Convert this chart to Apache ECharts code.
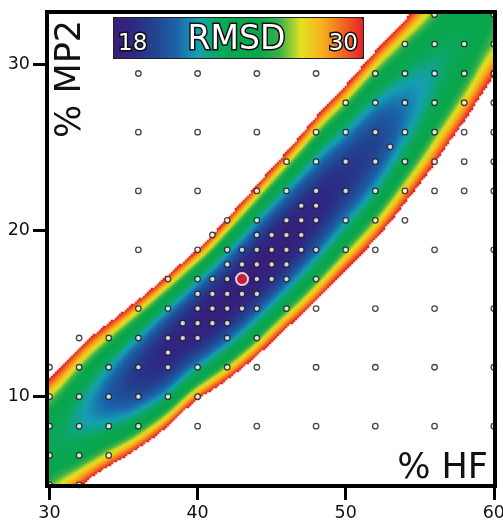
<!DOCTYPE html>
<html><head><meta charset="utf-8">
<script src="https://cdn.jsdelivr.net/npm/echarts@6/dist/echarts.min.js"></script>
<style>html,body{margin:0;padding:0;background:#fff;overflow:hidden;}#c{width:503px;height:521px;}</style>
</head><body><div id="c"></div>
<script>
// ---- tick labels ----
const hfTicks = [30, 40, 50, 60];
const mp2Ticks = [10, 20, 30];
// ---- colour scale ----
const rmsdMin = 18;
const rmsdMax = 30;
const rmsdTitle = 'RMSD';
// ---- RMSD at the regular lattice of computed points ----
const hfLevels = [30, 32, 34, 36, 38, 40, 42, 44, 46, 48, 50, 52, 54, 56, 58, 60];
const mp2Levels = [4.70, 6.47, 8.23, 10.00, 11.77, 13.53, 15.30, 17.07, 18.83, 20.60, 22.37, 24.13, 25.90, 27.67, 29.43, 31.20, 32.97];
const rmsdRows = [
  [25.9, 29.4, 35.4, 43.0, 54.6, 60, 60, 60, 60, 60, 60, 60, 60, 60, 60, 60],
  [23.5, 24.5, 27.4, 32.2, 40.6, 54.0, 60, 60, 60, 60, 60, 60, 60, 60, 60, 60],
  [23.8, 22.4, 22.6, 24.7, 30.1, 39.9, 47.6, 57.6, 60, 60, 60, 60, 60, 60, 60, 60],
  [26.8, 23.0, 20.8, 20.5, 22.9, 29.2, 35.6, 44.1, 55.3, 60, 60, 60, 60, 60, 60, 60],
  [32.5, 26.4, 22.2, 19.6, 19.3, 22.2, 26.7, 33.5, 42.7, 52.2, 60, 60, 60, 60, 60, 60],
  [40.8, 32.4, 26.6, 22.0, 19.0, 18.8, 21.0, 25.6, 32.8, 41.0, 51.5, 60, 60, 60, 60, 60],
  [51.9, 41.2, 34.2, 27.7, 22.2, 18.9, 18.4, 20.6, 25.4, 32.0, 40.8, 50.4, 60, 60, 60, 60],
  [60, 52.7, 44.8, 36.8, 28.9, 22.6, 19.0, 18.3, 20.6, 25.4, 32.3, 40.4, 50.5, 60, 60, 60],
  [60, 60, 58.5, 49.1, 38.9, 29.9, 22.7, 18.9, 18.4, 21.0, 25.9, 32.4, 41.2, 52.0, 60, 60],
  [60, 60, 60, 60, 52.5, 40.8, 29.5, 22.3, 18.9, 19.0, 21.7, 26.4, 33.6, 42.9, 55.0, 60],
  [60, 60, 60, 60, 60, 55.2, 39.5, 28.5, 22.0, 19.2, 19.6, 22.4, 27.9, 35.5, 45.7, 57.1],
  [60, 60, 60, 60, 60, 60, 52.6, 37.5, 27.6, 21.8, 19.7, 20.3, 23.9, 29.7, 38.0, 48.0],
  [60, 60, 60, 60, 60, 60, 60, 49.3, 35.9, 26.6, 22.0, 20.2, 21.7, 25.7, 31.9, 40.4],
  [60, 60, 60, 60, 60, 60, 60, 60, 46.8, 33.8, 26.4, 22.1, 21.4, 23.2, 27.5, 34.2],
  [60, 60, 60, 60, 60, 60, 60, 60, 60, 43.3, 32.9, 25.9, 22.8, 22.5, 24.7, 29.6],
  [60, 60, 60, 60, 60, 60, 60, 60, 60, 55.0, 41.7, 31.7, 26.0, 23.4, 23.5, 26.4],
  [60, 60, 60, 60, 60, 60, 60, 60, 60, 60, 52.6, 39.5, 31.0, 26.0, 24.0, 24.8]
];
// ---- computed points: [%MP2, [%HF ...]] ----
const dotRows = [
  [4.70, [30, 32]],
  [6.47, [30, 32, 34]],
  [8.23, [30, 32, 34, 36, 40, 44, 48, 52, 56, 60]],
  [10.00, [30, 32, 34, 36, 38, 40]],
  [11.77, [30, 32, 34, 36, 38, 40, 42, 44, 48, 52, 56, 60]],
  [12.65, [38]],
  [13.53, [32, 34, 36, 38, 39, 40, 42, 44]],
  [14.42, [39, 40, 41, 42]],
  [15.30, [36, 38, 40, 41, 42, 43, 44, 46, 48, 52, 56, 60]],
  [16.18, [40, 41, 42, 43, 44]],
  [17.07, [38, 40, 41, 42, 44, 45, 46, 48]],
  [17.95, [42, 43, 44, 45, 46]],
  [18.83, [36, 40, 42, 43, 44, 45, 46, 47, 48, 50, 52, 56, 60]],
  [19.72, [41, 44, 45, 46, 47]],
  [20.60, [42, 44, 46, 47, 48, 50, 52, 54]],
  [21.48, [47, 48]],
  [22.37, [36, 40, 44, 46, 48, 50, 52, 54, 56, 58, 60]],
  [24.13, [46, 48, 50, 52, 54, 56, 58, 60]],
  [25.02, [53]],
  [25.90, [36, 40, 44, 48, 50, 52, 54, 56, 58, 60]],
  [27.67, [50, 52, 54, 56, 58, 60]],
  [29.43, [36, 40, 44, 48, 52, 54, 56, 58, 60]],
  [31.20, [54, 56, 58, 60]],
  [32.97, [56, 60]]
];
const bestPoint = [43, 17.07];

// ---- layout ----
const X0 = 29.831, X1 = 60.081, Y0 = 4.632, Y1 = 33.126;
const GRID = {left: 47, top: 12, width: 448, height: 474, outerBoundsMode: 'none', containLabel: false};
const NX = 224, NY = 237;
const FONT = '"DejaVu Sans", Verdana, sans-serif';

// smooth display of the lattice (Catmull-Rom), as the original surface plot
function lat(r, c) {
  const R = rmsdRows.length, C = hfLevels.length;
  if (r < 0) return 2 * lat(0, c) - lat(1, c);
  if (r > R - 1) return 2 * lat(R - 1, c) - lat(R - 2, c);
  if (c < 0) return 2 * lat(r, 0) - lat(r, 1);
  if (c > C - 1) return 2 * lat(r, C - 1) - lat(r, C - 2);
  return rmsdRows[r][c];
}
function locate(levels, v) {
  let i = 0;
  while (i < levels.length - 2 && v > levels[i + 1]) i++;
  let t = (v - levels[i]) / (levels[i + 1] - levels[i]);
  t = Math.max(0, Math.min(1, t));
  return [i, t];
}
function cr(p0, p1, p2, p3, t) {
  return 0.5 * (2 * p1 + (-p0 + p2) * t + (2 * p0 - 5 * p1 + 4 * p2 - p3) * t * t + (-p0 + 3 * p1 - 3 * p2 + p3) * t * t * t);
}
function surface(x, y) {
  const [c, tx] = locate(hfLevels, x);
  const [r, ty] = locate(mp2Levels, y);
  const col = [];
  for (let m = -1; m <= 2; m++) {
    col.push(cr(lat(r + m, c - 1), lat(r + m, c), lat(r + m, c + 1), lat(r + m, c + 2), tx));
  }
  return cr(col[0], col[1], col[2], col[3], ty);
}
const xCats = [], yCats = [], heat = [];
for (let i = 0; i < NX; i++) xCats.push(i);
for (let j = 0; j < NY; j++) yCats.push(j);
for (let j = 0; j < NY; j++) {
  const y = Y0 + (j + 0.5) * (Y1 - Y0) / NY;
  for (let i = 0; i < NX; i++) {
    const x = X0 + (i + 0.5) * (X1 - X0) / NX;
    const v = surface(x, y);
    if (v <= rmsdMax) heat.push([i, j, Math.round(v * 100) / 100]); // above the scale: left white
  }
}
const dots = [];
dotRows.forEach(([y, xs]) => xs.forEach(x => dots.push([x, y])));

const chart = echarts.init(document.getElementById('c'), null, {renderer: 'canvas'});
const labelStyle = {fontSize: 17.5, color: '#111', fontFamily: FONT};
chart.setOption({
  animation: false,
  backgroundColor: '#fff',
  grid: [
    Object.assign({show: false}, GRID),
    Object.assign({show: false}, GRID)
  ],
  xAxis: [
    {type: 'category', gridIndex: 0, data: xCats, show: false},
    {type: 'value', gridIndex: 1, min: X0, max: X1, axisLine: {show: false}, splitLine: {show: false},
     axisTick: {show: true, customValues: hfTicks, length: 14, lineStyle: {color: '#000', width: 3}},
     axisLabel: Object.assign({customValues: hfTicks, margin: 18}, labelStyle)}
  ],
  yAxis: [
    {type: 'category', gridIndex: 0, data: yCats, show: false},
    {type: 'value', gridIndex: 1, min: Y0, max: Y1, axisLine: {show: false}, splitLine: {show: false},
     axisTick: {show: true, customValues: mp2Ticks, length: 14, lineStyle: {color: '#000', width: 3}},
     axisLabel: Object.assign({customValues: mp2Ticks, margin: 17}, labelStyle)}
  ],
  visualMap: {
    type: 'continuous', seriesIndex: 0, min: rmsdMin, max: rmsdMax, orient: 'horizontal',
    left: 113, top: 17, itemWidth: 40, itemHeight: 249, calculable: false, hoverLink: false,
    unboundedRange: false, padding: 0, borderColor: '#222', borderWidth: 2, z: 20,
    inRange: {color: ['#3b1c78', '#2e2a84', '#23448f', '#1c62aa', '#169fb2', '#0da75d', '#0aa64d',
                      '#0aa64d', '#3cb14a', '#e2e221', '#f7b21d', '#f26a21', '#e6202a']},
    outOfRange: {color: 'rgba(255,255,255,0)'}
  },
  series: [
    {type: 'heatmap', xAxisIndex: 0, yAxisIndex: 0, data: heat, progressive: 0, silent: true, z: 1},
    {type: 'scatter', xAxisIndex: 1, yAxisIndex: 1, data: dots, symbol: 'circle', symbolSize: 5.5, silent: true,
     clip: false, z: 5, itemStyle: {color: '#fff', borderColor: '#1a1a1a', borderWidth: 1.3}},
    {type: 'scatter', xAxisIndex: 1, yAxisIndex: 1, data: [bestPoint], symbol: 'circle', symbolSize: 12, silent: true,
     z: 6, itemStyle: {color: '#e8202a', borderColor: '#fff', borderWidth: 2}}
  ],
  graphic: [
    {type: 'rect', z: 40, silent: true, shape: {x: GRID.left, y: GRID.top, width: GRID.width, height: GRID.height},
     style: {fill: 'none', stroke: '#000', lineWidth: 4}},
    {type: 'text', x: 488, y: 469, z: 30, style: {text: '% HF', align: 'right', verticalAlign: 'middle', font: '35px ' + FONT, fill: '#111'}},
    {type: 'text', x: 71, y: 20, rotation: Math.PI / 2, z: 30, style: {text: '% MP2', align: 'right', verticalAlign: 'middle', font: '35px ' + FONT, fill: '#111'}},
    {type: 'text', x: 236.5, y: 40, z: 30, style: {text: rmsdTitle, align: 'center', verticalAlign: 'middle', font: '33px ' + FONT, fill: '#fff', stroke: '#111', lineWidth: 3, strokeFirst: true}},
    {type: 'text', x: 118, y: 44, z: 30, style: {text: String(rmsdMin), align: 'left', verticalAlign: 'middle', font: '23px ' + FONT, fill: '#fff', stroke: '#111', lineWidth: 3, strokeFirst: true}},
    {type: 'text', x: 358, y: 44, z: 30, style: {text: String(rmsdMax), align: 'right', verticalAlign: 'middle', font: '23px ' + FONT, fill: '#fff', stroke: '#111', lineWidth: 3, strokeFirst: true}}
  ]
});
</script>
</body></html>
